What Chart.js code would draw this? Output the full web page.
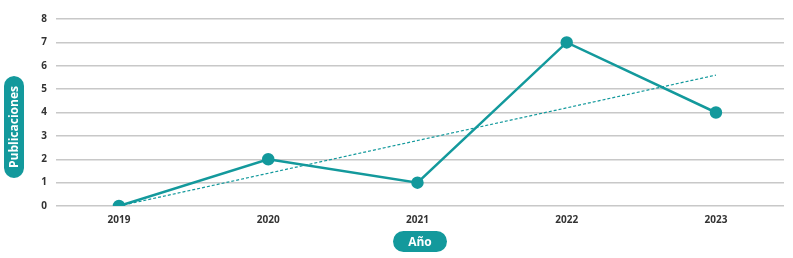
<!DOCTYPE html>
<html>
<head>
<meta charset="utf-8">
<script src="https://cdn.jsdelivr.net/npm/chart.js@4"></script>
<style>
  html, body { margin: 0; padding: 0; background: #fff; }
  .wrap { position: relative; width: 793px; height: 258px; }
  canvas { display: block; }
  .pill {
    position: absolute; background: #13999c; color: #fff;
    font: 700 12px "Open Sans", "Noto Sans", sans-serif;
    display: flex; align-items: center; justify-content: center;
    border-radius: 11px;
  }
  .pill.x { left: 393px; top: 231px; width: 54px; height: 21px; }
  .pill.y {
    left: 4px; top: 76px; width: 20px; height: 102px;
    writing-mode: vertical-rl; transform: rotate(180deg);
  }
</style>
</head>
<body>
<div class="wrap">
  <canvas id="c" width="793" height="258"></canvas>
  <div class="pill y">Publicaciones</div>
  <div class="pill x">Año</div>
</div>
<script>
// Publications per year, with a dotted linear trend across the range.
const years = [2019, 2020, 2021, 2022, 2023];
const publicaciones = [0, 2, 1, 7, 4];
const trendYears = [2019, 2023];
const trendValues = [0, 5.6];
const yTicks = [0, 1, 2, 3, 4, 5, 6, 7, 8];

const TEAL = "#13999c";
const FONT = "'Open Sans', 'Noto Sans', sans-serif";

new Chart(document.getElementById("c"), {
  type: "line",
  data: {
    datasets: [
      {
        data: years.map((x, i) => ({ x, y: publicaciones[i] })),
        borderColor: TEAL,
        backgroundColor: TEAL,
        borderWidth: 2.5,
        pointRadius: 5,
        pointHoverRadius: 5,
        tension: 0,
      },
      {
        data: trendYears.map((x, i) => ({ x, y: trendValues[i] })),
        borderColor: TEAL,
        borderWidth: 1.2,
        borderDash: [3, 2],
        pointRadius: 0,
        tension: 0,
      },
    ],
  },
  options: {
    responsive: false,
    animation: false,
    layout: { padding: { left: 0, right: 9, top: 19, bottom: 0 } },
    plugins: { legend: { display: false }, tooltip: { enabled: false } },
    scales: {
      x: {
        type: "linear",
        min: 2018.578,
        max: 2023.456,
        grid: { display: false, drawTicks: false },
        border: { display: false },
        afterBuildTicks: (s) => { s.ticks = years.map((v) => ({ value: v })); },
        afterFit: (s) => { s.height = 52; },
        ticks: {
          padding: 8,
          color: "#333",
          font: { family: FONT, size: 10, weight: "bold" },
          callback: (v) => String(v),
        },
      },
      y: {
        min: 0,
        max: 8,
        grid: { color: "#c8c8c8", lineWidth: 1.5, drawTicks: false },
        border: { display: false },
        afterBuildTicks: (s) => { s.ticks = yTicks.map((v) => ({ value: v })); },
        afterFit: (s) => { s.width = 56; },
        ticks: {
          padding: 9,
          color: "#333",
          font: { family: FONT, size: 10, weight: "bold" },
        },
      },
    },
  },
});
</script>
</body>
</html>
